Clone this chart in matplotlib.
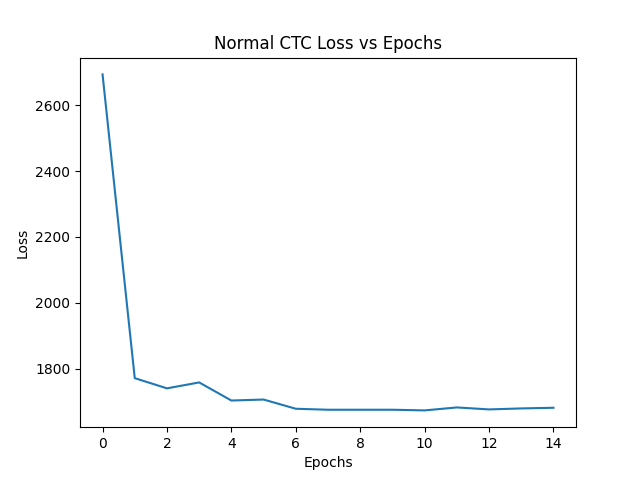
import matplotlib
matplotlib.use('Agg')
import matplotlib.pyplot as plt

epochs = list(range(15))
loss = [2694, 1771, 1740, 1758, 1703, 1706, 1678, 1675, 1675, 1675, 1673, 1682, 1676, 1679, 1681]

fig, ax = plt.subplots(figsize=(6.4, 4.8), dpi=100)
ax.plot(epochs, loss)
ax.set_title('Normal CTC Loss vs Epochs')
ax.set_xlabel('Epochs')
ax.set_ylabel('Loss')
fig.savefig('out.png')
